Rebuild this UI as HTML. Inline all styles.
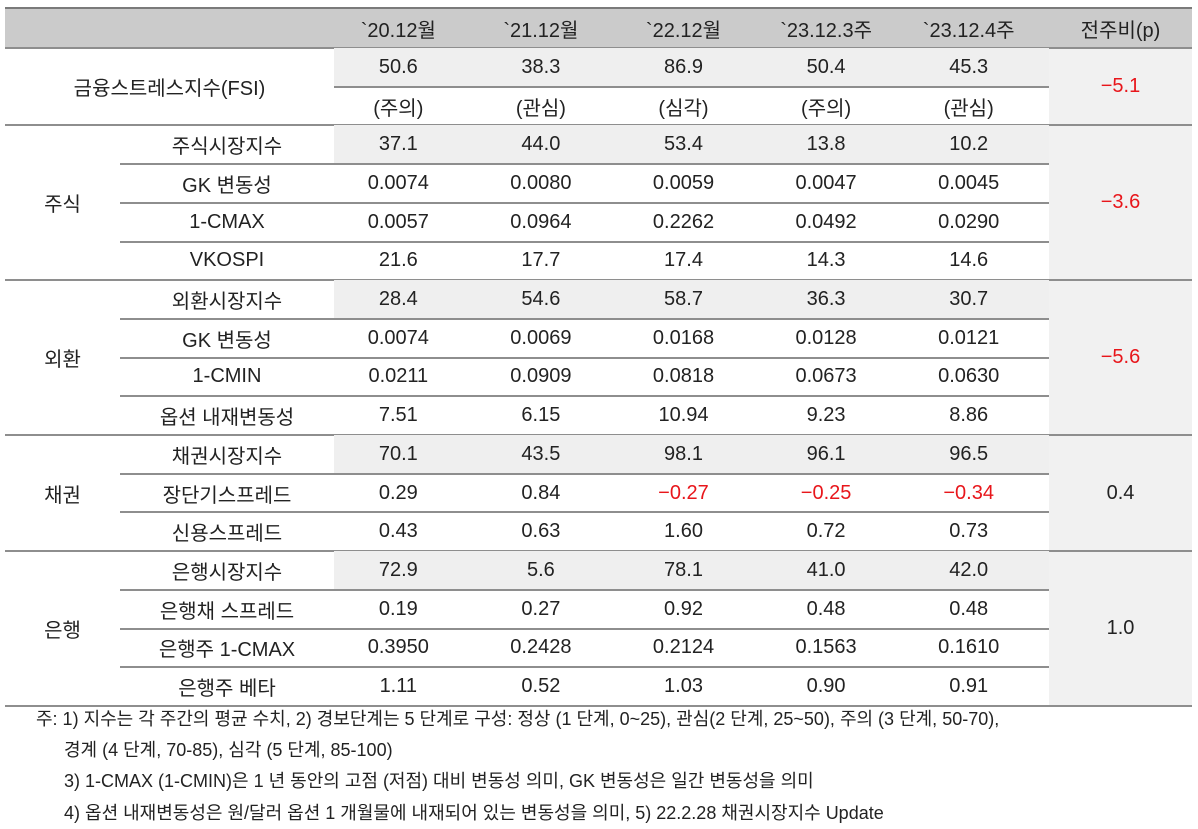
<!DOCTYPE html>
<html><head><meta charset="utf-8">
<style>
html,body{margin:0;padding:0;background:#fff;}
body{width:1198px;height:829px;position:relative;overflow:hidden;font-family:"Liberation Sans","Noto Sans CJK KR",sans-serif;color:#222;}
.c{position:absolute;display:flex;align-items:center;justify-content:center;font-size:20px;white-space:nowrap;}
.ln{position:absolute;height:2px;background:#8e8e8e;}
.sh{position:absolute;background:#efefef;}
.red{color:#e8161b;}
.fn{position:absolute;font-size:18px;white-space:nowrap;line-height:22px;}
</style></head>
<body>
<div id="tbl"></div>
<div class="fn" style="left:36px;top:708px">주: 1) 지수는 각 주간의 평균 수치, 2) 경보단계는 5 단계로 구성: 정상 (1 단계, 0~25), 관심(2 단계, 25~50), 주의 (3 단계, 50-70),</div>
<div class="fn" style="left:64px;top:739px">경계 (4 단계, 70-85), 심각 (5 단계, 85-100)</div>
<div class="fn" style="left:64px;top:770px">3) 1-CMAX (1-CMIN)은 1 년 동안의 고점 (저점) 대비 변동성 의미, GK 변동성은 일간 변동성을 의미</div>
<div class="fn" style="left:64px;top:802px">4) 옵션 내재변동성은 원/달러 옵션 1 개월물에 내재되어 있는 변동성을 의미, 5) 22.2.28 채권시장지수 Update</div>
<script>
const headers=["`20.12월","`21.12월","`22.12월","`23.12.3주","`23.12.4주","전주비(p)"];
const groups=[
 {name:"주식",chg:"-3.6",rows:[["주식시장지수","37.1","44.0","53.4","13.8","10.2"],["GK 변동성","0.0074","0.0080","0.0059","0.0047","0.0045"],["1-CMAX","0.0057","0.0964","0.2262","0.0492","0.0290"],["VKOSPI","21.6","17.7","17.4","14.3","14.6"]]},
 {name:"외환",chg:"-5.6",rows:[["외환시장지수","28.4","54.6","58.7","36.3","30.7"],["GK 변동성","0.0074","0.0069","0.0168","0.0128","0.0121"],["1-CMIN","0.0211","0.0909","0.0818","0.0673","0.0630"],["옵션 내재변동성","7.51","6.15","10.94","9.23","8.86"]]},
 {name:"채권",chg:"0.4",rows:[["채권시장지수","70.1","43.5","98.1","96.1","96.5"],["장단기스프레드","0.29","0.84","-0.27","-0.25","-0.34"],["신용스프레드","0.43","0.63","1.60","0.72","0.73"]]},
 {name:"은행",chg:"1.0",rows:[["은행시장지수","72.9","5.6","78.1","41.0","42.0"],["은행채 스프레드","0.19","0.27","0.92","0.48","0.48"],["은행주 1-CMAX","0.3950","0.2428","0.2124","0.1563","0.1610"],["은행주 베타","1.11","0.52","1.03","0.90","0.91"]]}
];
const fsiVals=["50.6","38.3","86.9","50.4","45.3"];
const fsiLevels=["(주의)","(관심)","(심각)","(주의)","(관심)"];
const fsiChg="-5.1";
const T=document.getElementById('tbl');
const L=5,R=1192,SUB=120,V0=334,CW=142.6,CHG=1049,RH=38.7,HT=8,HB=48,SHIFT=-7;
const fmt=s=>s.replace(/^-/,'−');
function box(cls,x,y,w,h,txt,name,extra){const d=document.createElement('div');d.className=cls;d.style.left=x+'px';d.style.top=y+'px';d.style.width=w+'px';d.style.height=h+'px';if(txt!==undefined)d.textContent=txt;if(extra)d.style.cssText+=extra;


T.appendChild(d);return d;}
const colX=i=>V0+SHIFT+i*CW;
box('sh',L,HT,R-L,HB-HT,undefined,'header-bg','background:#cbcbcb');
box('ln',L,HT-1,R-L,2,undefined,'top-border','background:#7a7a7a');
headers.forEach((h,i)=>{const x=i<5?colX(i):CHG;const w=i<5?CW:R-CHG;box('c',x,HT,w,HB-HT,h,'header-'+i);});
let y=HB;
const totalBottom=HB+RH*17;
box('sh',CHG,HB,R-CHG,totalBottom-HB,undefined,'change-col-bg','background:#f1f1f1');
box('ln',L,HB-1,R-L,2,undefined,'header-bottom-line');
box('sh',V0,y,CHG-V0,RH,undefined,'fsi-value-bg');
box('c',L,y,V0-L,RH*2,'금융스트레스지수(FSI)','fsi-label');
fsiVals.forEach((v,i)=>box('c',colX(i),y,CW,RH,v,'fsi-value-'+i));
fsiLevels.forEach((v,i)=>box('c',colX(i),y+RH,CW,RH,v,'fsi-level-'+i));
box('ln',V0,y+RH-1,CHG-V0,2,undefined,'fsi-row-line');
box('c red',CHG,y,R-CHG,RH*2,fmt(fsiChg),'fsi-change');
y+=RH*2;
groups.forEach((g,gi)=>{
 box('ln',L,y-1,R-L,2,undefined,'section-line-'+gi);
 const n=g.rows.length;
 box('c',L,y,SUB-L,RH*n,g.name,'group-label-'+gi);
 box('c'+(g.chg.startsWith('-')?' red':''),CHG,y,R-CHG,RH*n,fmt(g.chg),'group-change-'+gi);
 g.rows.forEach((r,ri)=>{
  const ry=y+ri*RH;
  if(ri===0) box('sh',V0,ry,CHG-V0,RH,undefined,'index-row-bg-'+gi);
  if(ri>0) box('ln',SUB,ry-1,CHG-SUB,2,undefined,'row-line-'+gi+'-'+ri);
  box('c',SUB,ry,V0-SUB,RH,r[0],'row-label-'+gi+'-'+ri);
  for(let k=1;k<6;k++){box('c'+(r[k].startsWith('-')?' red':''),colX(k-1),ry,CW,RH,fmt(r[k]),'cell-'+gi+'-'+ri+'-'+k);}
 });
 y+=RH*n;
});
box('ln',L,y-1,R-L,2,undefined,'table-bottom-line');
</script>
</body></html>
